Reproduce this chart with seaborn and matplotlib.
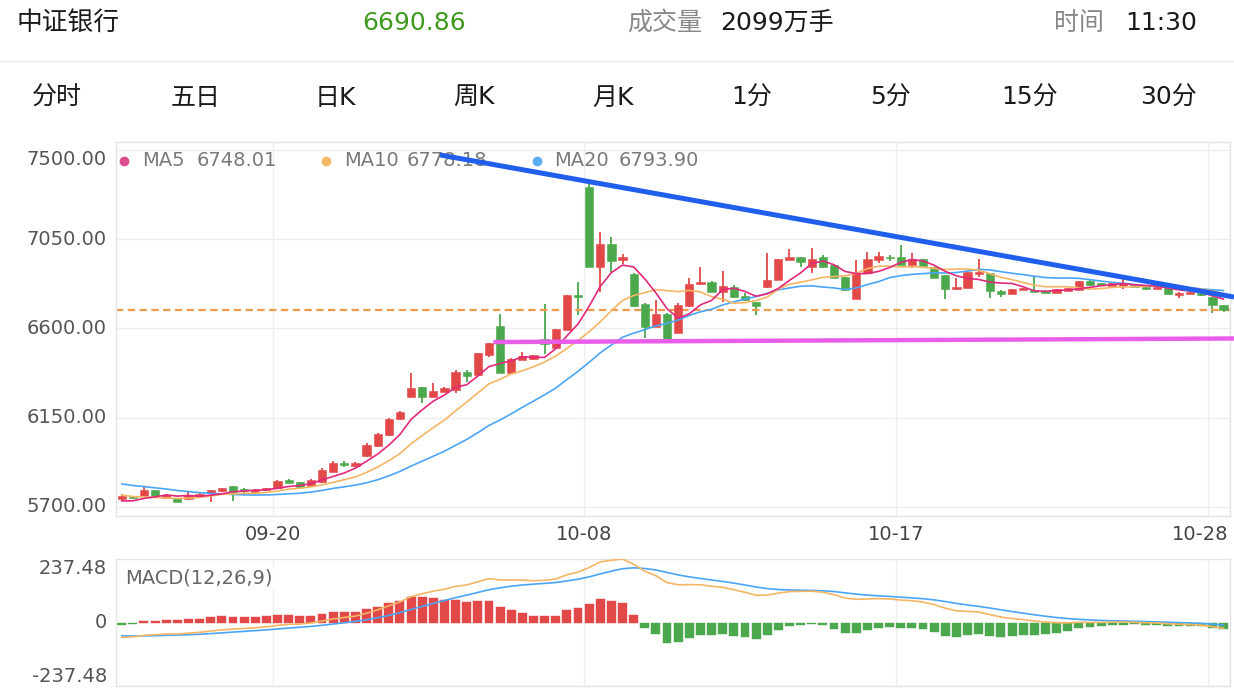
import numpy as np
import pandas as pd
import matplotlib
matplotlib.use("Agg")
import matplotlib.pyplot as plt
import matplotlib.transforms as mtransforms
from matplotlib.lines import Line2D
import seaborn as sns

# ---------------- data (60-minute candles) ----------------
open_ = [5740.0, 5752.6, 5756.7, 5785.4, 5747.6, 5743.6, 5738.5, 5756.7, 5770.3, 5780.4,
         5805.6, 5788.9, 5776.8, 5783.9, 5794.0, 5834.3, 5824.2, 5808.1, 5825.7, 5877.6,
         5920.0, 5906.4, 5956.8, 6007.2, 6062.6, 6141.7, 6255.6, 6303.0, 6255.6, 6280.8,
         6289.4, 6378.6, 6362.5, 6465.8, 6612.0, 6376.6, 6440.6, 6444.1, 6546.4, 6499.6,
         6591.8, 6770.7, 7314.0, 6907.8, 7025.2, 6944.6, 6874.0, 6722.8, 6609.4, 6672.4,
         6579.2, 6712.8, 6823.6, 6835.3, 6781.3, 6808.0, 6761.6, 6733.0, 6808.5, 6843.8,
         6944.6, 6959.7, 6909.3, 6959.7, 6917.9, 6859.0, 6749.6, 6877.5, 6947.1, 6958.2,
         6959.7, 6917.9, 6948.6, 6910.8, 6869.0, 6796.9, 6802.0, 6874.0, 6877.5, 6789.9,
         6773.2, 6793.4, 6793.4, 6789.9, 6778.3, 6788.4, 6793.4, 6839.8, 6830.2, 6815.1,
         6813.6, 6821.1, 6810.0, 6798.4, 6802.0, 6769.7, 6773.2, 6776.8, 6756.6, 6715.3]
high_ = [5765.2, 5757.7, 5799.0, 5787.9, 5765.2, 5745.1, 5773.8, 5767.8, 5787.9, 5795.5,
         5808.1, 5794.0, 5788.9, 5795.5, 5835.8, 5840.8, 5825.7, 5840.8, 5893.8, 5933.1,
         5933.1, 5926.5, 6020.8, 6070.2, 6148.3, 6182.0, 6376.6, 6304.5, 6323.2, 6306.0,
         6390.2, 6390.2, 6476.0, 6526.3, 6670.1, 6448.6, 6482.4, 6465.8, 6721.3, 6597.0,
         6770.7, 6832.2, 7327.6, 7087.2, 7062.1, 6974.8, 6876.6, 6725.4, 6743.0, 6675.0,
         6729.4, 6852.4, 6910.8, 6837.2, 6890.8, 6819.6, 6778.3, 6735.4, 6977.4, 6949.6,
         6999.0, 6961.3, 7002.6, 6969.8, 6919.4, 6860.5, 6944.6, 6984.9, 6986.4, 6969.8,
         7022.7, 6978.4, 6949.6, 6911.8, 6870.5, 6852.4, 6886.6, 6948.1, 6879.1, 6790.9,
         6798.4, 6803.5, 6858.9, 6790.9, 6798.4, 6805.0, 6840.3, 6841.3, 6831.2, 6828.7,
         6852.4, 6823.6, 6811.0, 6808.5, 6803.5, 6781.8, 6785.8, 6778.3, 6758.1, 6716.3]
low_ = [5732.5, 5740.0, 5755.2, 5748.6, 5745.1, 5724.9, 5737.5, 5755.2, 5723.4, 5777.8,
        5730.0, 5770.3, 5775.3, 5782.9, 5790.4, 5820.7, 5794.0, 5805.6, 5823.2, 5876.1,
        5903.8, 5903.8, 5950.2, 6004.6, 6060.1, 6139.7, 6254.1, 6226.4, 6254.1, 6279.3,
        6272.8, 6331.2, 6360.0, 6454.2, 6375.1, 6375.1, 6439.1, 6443.1, 6470.3, 6496.0,
        6589.3, 6667.4, 6909.3, 6784.8, 6885.6, 6924.4, 6710.2, 6550.0, 6606.9, 6541.4,
        6576.7, 6710.2, 6821.1, 6783.3, 6734.4, 6755.4, 6738.0, 6667.4, 6806.0, 6842.3,
        6943.1, 6907.8, 6877.5, 6904.3, 6852.4, 6788.4, 6748.0, 6876.1, 6928.0, 6939.6,
        6917.9, 6902.8, 6912.9, 6854.9, 6746.5, 6795.9, 6801.0, 6860.5, 6751.6, 6759.6,
        6771.7, 6791.9, 6781.8, 6776.7, 6776.7, 6786.8, 6791.9, 6814.6, 6817.1, 6813.6,
        6796.9, 6808.5, 6795.9, 6796.9, 6771.7, 6751.6, 6771.7, 6764.2, 6676.0, 6685.0]
close_ = [5756.7, 5745.1, 5785.4, 5756.7, 5760.2, 5726.4, 5760.2, 5763.7, 5786.9, 5794.0,
          5776.8, 5780.4, 5786.9, 5794.0, 5832.3, 5822.2, 5802.0, 5838.3, 5886.2, 5920.0,
          5909.9, 5923.0, 6012.2, 6067.6, 6144.8, 6180.0, 6301.0, 6255.6, 6285.9, 6298.0,
          6378.6, 6361.5, 6474.4, 6524.8, 6376.6, 6446.1, 6460.8, 6464.3, 6521.2, 6595.5,
          6768.2, 6759.6, 6910.8, 7025.2, 6941.1, 6958.2, 6712.8, 6609.4, 6672.4, 6543.9,
          6717.8, 6823.6, 6835.3, 6784.8, 6811.5, 6757.6, 6741.5, 6714.3, 6845.3, 6948.1,
          6959.7, 6932.0, 6948.6, 6909.3, 6853.9, 6790.9, 6877.5, 6948.1, 6964.8, 6952.2,
          6919.4, 6948.6, 6914.4, 6856.4, 6796.9, 6808.0, 6885.6, 6885.6, 6789.9, 6773.2,
          6796.9, 6802.0, 6783.3, 6778.3, 6796.9, 6803.5, 6838.8, 6816.1, 6818.6, 6827.2,
          6826.2, 6811.0, 6796.9, 6807.5, 6773.2, 6780.8, 6784.8, 6765.7, 6715.3, 6690.86]
# closes before the visible window, estimated from the starting levels of the
# MA lines and of the MACD lines
prior_closes = [5995, 5990, 5985, 5978, 5970, 5962, 5955, 5945, 5935, 5925, 5915, 5908,
                5900, 5895, 5885, 5880, 5875, 5870, 5865, 5860, 5850, 5840,
                5820, 5800, 5790, 5780, 5760, 5740, 5725, 5718, 5710]

date_labels = ["09-20", "10-08", "10-17", "10-28"]
date_bar_index = [14, 42, 70, 98]
price_ticks = [7500.0, 7050.0, 6600.0, 6150.0, 5700.0]
macd_limit = 237.48
ma_names = ["MA5", "MA10", "MA20"]
ma_values_shown = ["6748.01", "6778.18", "6793.90"]

# hand-drawn trend lines: (bar index, price) anchors
trend_blue_x = [28.6, 99.94]
trend_blue_y = [7474.0, 6758.0]
trend_pink_x = [33.4, 99.94]
trend_pink_y = [6531.0, 6549.0]

header_name = "中证银行"
header_price = "6690.86"
header_vol_label = "成交量"
header_vol = "2099万手"
header_time_label = "时间"
header_time = "11:30"
tabs = ["分时", "五日", "日K", "周K", "月K", "1分", "5分", "15分", "30分"]

# ---------------- derived indicators ----------------
n_prior = len(prior_closes)
full = pd.Series(prior_closes + close_, dtype=float)
idx = np.arange(len(close_))
ma = {p: full.rolling(p).mean().values[n_prior:] for p in (5, 10, 20)}
ema12 = full.ewm(span=12, adjust=False).mean()
ema26 = full.ewm(span=26, adjust=False).mean()
dif_full = ema12 - ema26
dea_full = dif_full.ewm(span=9, adjust=False).mean()
dif = dif_full.values[n_prior:]
dea = dea_full.values[n_prior:]
hist = 2 * (dif - dea)

# ---------------- styling ----------------
sns.set_theme(style="white")
plt.rcParams["font.family"] = ["DejaVu Sans", "Noto Sans CJK SC"]

RED = "#e24848"
GREEN = "#4ca84c"
C_MA5 = "#e2287c"
C_MA10 = "#f4b564"
C_MA20 = "#4aa5f7"
GRID = "#eeeeee"

W, H = 1234, 700
fig = plt.figure(figsize=(W / 100, H / 100), dpi=100)
fig.patch.set_facecolor("white")


def fx(x):
    return x / W


def fy(y):
    return 1 - y / H


ax = fig.add_axes([fx(116), fy(516), fx(1230) - fx(116), fy(142) - fy(516)])
ax2 = fig.add_axes([fx(116), fy(686), fx(1230) - fx(116), fy(559) - fy(686)])

xlim = (-0.51, 99.58)
for a in (ax, ax2):
    a.set_xlim(*xlim)
    a.set_xticks([])
    a.set_yticks([])
    a.set_facecolor("white")
    for s in a.spines.values():
        s.set_color("#e3e3e3")
        s.set_linewidth(1)
ax.set_ylim(5654.4, 7539.3)
ax2.set_ylim(-macd_limit, macd_limit)

grid_x = np.array(date_bar_index) - 0.42
for v in price_ticks:
    ax.axhline(v, color=GRID, lw=1, zorder=0)
for gx in grid_x:
    ax.axvline(gx, color=GRID, lw=1, zorder=0)
    ax2.axvline(gx, color=GRID, lw=1, zorder=0)

# candles
o = np.array(open_)
c = np.array(close_)
hi = np.array(high_)
lo = np.array(low_)
up = c >= o
cols = np.where(up, RED, GREEN)
bottom = np.minimum(o, c)
height = np.maximum(np.abs(c - o), 4.0)
ax.vlines(idx, lo, hi, colors=cols, lw=1.3, zorder=2)
ax.bar(idx, height, bottom=bottom, width=0.74, color=cols, edgecolor=cols,
       linewidth=0.4, zorder=3)

# moving averages
ma_df = pd.DataFrame({"i": idx, "MA5": ma[5], "MA10": ma[10], "MA20": ma[20]})
sns.lineplot(data=ma_df, x="i", y="MA20", ax=ax, color=C_MA20, lw=1.2, zorder=4, legend=False)
sns.lineplot(data=ma_df, x="i", y="MA10", ax=ax, color=C_MA10, lw=1.2, zorder=4, legend=False)
sns.lineplot(data=ma_df, x="i", y="MA5", ax=ax, color=C_MA5, lw=1.2, zorder=4, legend=False)
ax.set_xlabel("")
ax.set_ylabel("")

# last price dashed line
ax.axhline(close_[-1], color="#f0994a", lw=1.6, ls=(0, (3.3, 2.0)), zorder=2.5)

# trend lines
ax.plot(trend_blue_x, trend_blue_y, color="#1f5fec", lw=3.6, solid_capstyle="butt",
        clip_on=False, zorder=7)
ax.plot(trend_pink_x, trend_pink_y, color="#e85ee9", lw=3.2, solid_capstyle="butt",
        clip_on=False, zorder=7)

# legend row (inside axes so the trend line is drawn above it)
leg_dot_x = [124, 326, 537]
leg_name_x = [142, 344, 554]
leg_val_x = [197, 407, 619]
leg_cols = ["#de4b8e", "#f2ba66", "#5aaef5"]
for k in range(3):
    ax.plot([fx(leg_dot_x[k])], [fy(161)], "o", ms=6, color=leg_cols[k],
            transform=fig.transFigure, clip_on=False, zorder=5)
    ax.text(fx(leg_name_x[k]), fy(161), ma_names[k], transform=fig.transFigure,
            fontsize=14, color="#7a7a7a", va="center", ha="left", zorder=5)
    ax.text(fx(leg_val_x[k]), fy(161), ma_values_shown[k], transform=fig.transFigure,
            fontsize=14, color="#7a7a7a", va="center", ha="left", zorder=5)

# y tick labels
tr = mtransforms.blended_transform_factory(fig.transFigure, ax.transData)
for v in price_ticks:
    va = "top" if v == max(price_ticks) else "center"
    ax.text(fx(107), v, f"{v:.2f}", transform=tr, ha="right", va=va,
            fontsize=14, color="#555555", clip_on=False)

# date labels
trd = mtransforms.blended_transform_factory(ax.transData, fig.transFigure)
for k, (gx, lab) in enumerate(zip(grid_x, date_labels)):
    if k == len(date_labels) - 1:
        fig.text(fx(1228), fy(535), lab, ha="right", va="center", fontsize=14, color="#444444")
    else:
        ax.text(gx, fy(535), lab, transform=trd, ha="center", va="center",
                fontsize=14, color="#444444", clip_on=False)

# MACD pane
mcols = np.where(hist >= 0, RED, GREEN)
ax2.bar(idx, hist, width=0.8, color=mcols, edgecolor=mcols, linewidth=0.3, zorder=2)
macd_df = pd.DataFrame({"i": idx, "DIF": dif, "DEA": dea})
sns.lineplot(data=macd_df, x="i", y="DEA", ax=ax2, color=C_MA20, lw=1.2, zorder=3, legend=False)
sns.lineplot(data=macd_df, x="i", y="DIF", ax=ax2, color=C_MA10, lw=1.2, zorder=3, legend=False)
ax2.set_xlabel("")
ax2.set_ylabel("")
tr2 = mtransforms.blended_transform_factory(fig.transFigure, ax2.transData)
ax2.text(fx(107), macd_limit, f"{macd_limit:.2f}", transform=tr2, ha="right", va="top",
         fontsize=14, color="#555555", clip_on=False)
ax2.text(fx(107), 0, "0", transform=tr2, ha="right", va="center",
         fontsize=14, color="#555555", clip_on=False)
ax2.text(fx(107), -macd_limit, f"{-macd_limit:.2f}", transform=tr2, ha="right", va="bottom",
         fontsize=14, color="#555555", clip_on=False)
ax2.text(fx(125), fy(578), "MACD(12,26,9)", transform=fig.transFigure, ha="left",
         va="center", fontsize=14, color="#666666", zorder=6,
         bbox=dict(fc="white", ec="none", pad=1.0))

# header
fig.text(fx(17), fy(23), header_name, fontsize=18.5, color="#1a1a1a", va="center", ha="left")
fig.text(fx(362), fy(23), header_price, fontsize=18, color="#3f9a1f", va="center", ha="left")
fig.text(fx(627), fy(23), header_vol_label, fontsize=18, color="#888888", va="center", ha="left")
fig.text(fx(720), fy(23), header_vol, fontsize=18, color="#1a1a1a", va="center", ha="left")
fig.text(fx(1054), fy(23), header_time_label, fontsize=18, color="#888888", va="center", ha="left")
fig.text(fx(1125), fy(23), header_time, fontsize=18, color="#1a1a1a", va="center", ha="left")
fig.add_artist(Line2D([0, 1], [fy(61), fy(61)], color="#e8e8e8", lw=1, transform=fig.transFigure))

tab_centers = [57, 196, 335, 474, 613, 752, 891, 1030, 1169]
for cx, t in zip(tab_centers, tabs):
    fig.text(fx(cx), fy(98), t, fontsize=18, color="#1a1a1a", va="center", ha="center")

fig.savefig("out.png", dpi=100, facecolor="white")
